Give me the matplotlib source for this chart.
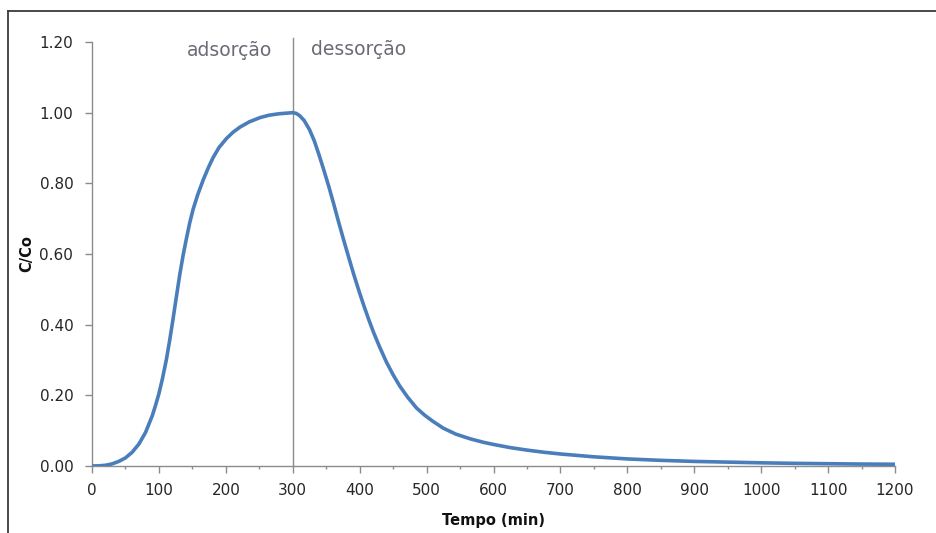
import matplotlib
matplotlib.use("Agg")
import matplotlib.pyplot as plt
from matplotlib.ticker import MultipleLocator, FormatStrFormatter
from matplotlib.lines import Line2D

plt.rcParams['font.family'] = ['DejaVu Sans']

# Breakthrough (adsorption) and elution (desorption) curve, C/Co vs time
tempo = [0, 10, 20, 30, 40, 50, 60, 70, 80, 90, 95, 100, 105, 111, 116, 121,
         126, 131, 136, 141, 146, 151, 158, 166, 174, 181, 190, 201, 211, 221,
         235, 251, 265, 280, 300,
         305, 310, 317, 325, 332, 339, 346, 354, 361, 368, 376, 384, 391, 399,
         406, 414, 421, 430, 440, 450, 460, 472, 485, 497, 509, 525, 544, 565,
         585, 600, 625, 650, 675, 700, 750, 800, 850, 900, 950, 1000, 1050,
         1100, 1150, 1200]
c_co = [0.000, 0.0005, 0.002, 0.006, 0.013, 0.023, 0.039, 0.062, 0.095, 0.142,
        0.172, 0.205, 0.245, 0.300, 0.355, 0.415, 0.478, 0.540, 0.595, 0.643,
        0.688, 0.726, 0.768, 0.809, 0.845, 0.873, 0.902, 0.927, 0.945, 0.959,
        0.974, 0.986, 0.993, 0.997, 1.000,
        0.998, 0.992, 0.978, 0.952, 0.921, 0.882, 0.840, 0.790, 0.743, 0.694,
        0.640, 0.588, 0.543, 0.495, 0.455, 0.412, 0.377, 0.336, 0.294, 0.258,
        0.226, 0.194, 0.164, 0.144, 0.127, 0.107, 0.090, 0.077, 0.067, 0.061,
        0.052, 0.045, 0.039, 0.034, 0.026, 0.020, 0.016, 0.013, 0.011, 0.009,
        0.0075, 0.0065, 0.0055, 0.005]

x_ticks = list(range(0, 1201, 100))
y_ticks = [0.0, 0.2, 0.4, 0.6, 0.8, 1.0, 1.2]
t_switch = 300

fig = plt.figure(figsize=(9.37, 5.33), dpi=100)
ax = fig.add_axes([0.0982, 0.1257, 0.857, 0.7955])

ax.plot(tempo, c_co, color='#4a7ebb', linewidth=2.6, solid_capstyle='round',
        solid_joinstyle='round', zorder=3)

# phase boundary
ax.plot([t_switch, t_switch], [0, 1.21], color='#8c8c8c', linewidth=1.0,
        clip_on=False, zorder=2)

ax.set_xlim(0, 1200)
ax.set_ylim(0, 1.2)
ax.set_xticks(x_ticks)
ax.xaxis.set_minor_locator(MultipleLocator(50))
ax.set_yticks(y_ticks)
ax.yaxis.set_major_formatter(FormatStrFormatter('%.2f'))

for side in ('top', 'right'):
    ax.spines[side].set_visible(False)
for side in ('left', 'bottom'):
    ax.spines[side].set_color('#8c8c8c')
    ax.spines[side].set_linewidth(1.0)

ax.tick_params(axis='both', which='major', direction='out', length=5,
               width=1.0, color='#8c8c8c', labelsize=11, labelcolor='#262626')
ax.tick_params(axis='x', which='minor', direction='out', length=2.5,
               width=1.0, color='#8c8c8c')
ax.tick_params(axis='x', which='major', pad=7)
ax.tick_params(axis='y', which='major', pad=8.5)

ax.set_xlabel('Tempo (min)', fontsize=10.5, fontweight='bold', color='#111111',
              labelpad=11)
ax.set_ylabel('C/Co', fontsize=10.5, fontweight='bold', color='#111111',
              labelpad=4)

ax.text(205, 1.175, 'adsorção', ha='center', va='center', fontsize=13.5,
        color='#6b6b78')
ax.text(398, 1.178, 'dessorção', ha='center', va='center', fontsize=13.5,
        color='#6b6b78')

# outer chart frame
x0 = 8 / 937
y0 = 1 - 11 / 533
fig.add_artist(Line2D([x0, x0], [0, y0], transform=fig.transFigure,
                      color='#3a3a3a', linewidth=1.3))
fig.add_artist(Line2D([x0, 1], [y0, y0], transform=fig.transFigure,
                      color='#3a3a3a', linewidth=1.3))

fig.savefig('out.png', dpi=100)
